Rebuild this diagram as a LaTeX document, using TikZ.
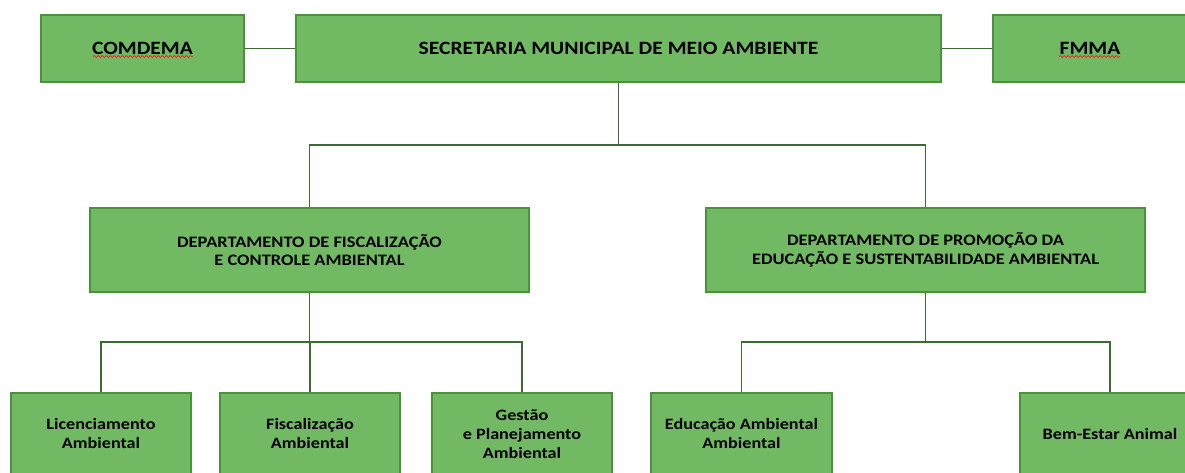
\documentclass[tikz,border=0pt]{standalone}
\usepackage{fontspec}
\setmainfont{Carlito}
\newfontfamily\widefont[FakeStretch=1.15]{Carlito}
\usetikzlibrary{decorations.pathmorphing}
\definecolor{boxfill}{RGB}{114,185,99}
\definecolor{boxedge}{RGB}{76,146,58}
\definecolor{linec}{RGB}{62,104,52}
\definecolor{spell}{RGB}{214,60,40}
\tikzset{
  box/.style={rectangle, draw=boxedge, fill=boxfill, line width=1.2pt, inner sep=0pt, align=center, text=black},
  topbox/.style={box, minimum height=67pt, font=\widefont\bfseries\fontsize{18.8}{22}\selectfont},
  deptbox/.style={box, minimum width=439pt, minimum height=84pt, font=\widefont\bfseries\fontsize{16}{18.5}\selectfont},
  leafbox/.style={box, minimum width=180pt, minimum height=82pt, font=\widefont\bfseries\fontsize{15.8}{19}\selectfont},
  conn/.style={draw=linec, line width=1.1pt},
  squiggle/.style={draw=spell, line width=0.8pt, decorate, decoration={snake, amplitude=1pt, segment length=4pt}}
}
\begin{document}
\begin{tikzpicture}[x=1pt, y=-1pt]
\useasboundingbox (0,0) rectangle (1185,473);
\clip (0,0) rectangle (1185,473);
% top row
\node[topbox, minimum width=203pt] (com) at (142.5,48.5) {COMDEMA};
\node[topbox, minimum width=645pt] (sec) at (618.5,48.5) {SECRETARIA MUNICIPAL DE MEIO AMBIENTE};
\node[topbox, minimum width=194pt] (fmma) at (1090,48.5) {FMMA};
% departments
\node[deptbox] (d1) at (309.5,250) {DEPARTAMENTO DE FISCALIZAÇÃO\\E CONTROLE AMBIENTAL};
\node[deptbox] (d2) at (925.5,250) {DEPARTAMENTO DE PROMOÇÃO DA\\EDUCAÇÃO E SUSTENTABILIDADE AMBIENTAL};
% leaves
\node[leafbox] (lic) at (101,434) {Licenciamento\\Ambiental};
\node[leafbox] (fis) at (310,434) {Fiscalização\\Ambiental};
\node[leafbox] (ges) at (522,434) {Gestão\\e Planejamento\\Ambiental};
\node[leafbox, minimum width=181pt] (edu) at (741.5,434) {Educação Ambiental\\Ambiental};
\node[leafbox] (bem) at (1110,434) {Bem-Estar Animal};
% spell-check underlines
\draw[squiggle] (93,56.5) -- (193,56.5);
\draw[squiggle] (1059,56.5) -- (1120,56.5);
% connectors
\draw[conn] (com.east) -- (sec.west);
\draw[conn] (sec.east) -- (fmma.west);
\coordinate (j0) at (618.5,145);
\draw[conn] (sec.south) -- (j0);
\draw[conn] (j0) -| (d1.north);
\draw[conn] (j0) -| (d2.north);
\coordinate (j1) at (309.5,342);
\draw[conn] (d1.south) -- (j1);
\draw[conn] (j1) -| (lic.north);
\draw[conn] (j1) -| (fis.north);
\draw[conn] (j1) -| (ges.north);
\coordinate (j2) at (925.5,342);
\draw[conn] (d2.south) -- (j2);
\draw[conn] (j2) -| (edu.north);
\draw[conn] (j2) -| (bem.north);
\end{tikzpicture}
\end{document}
